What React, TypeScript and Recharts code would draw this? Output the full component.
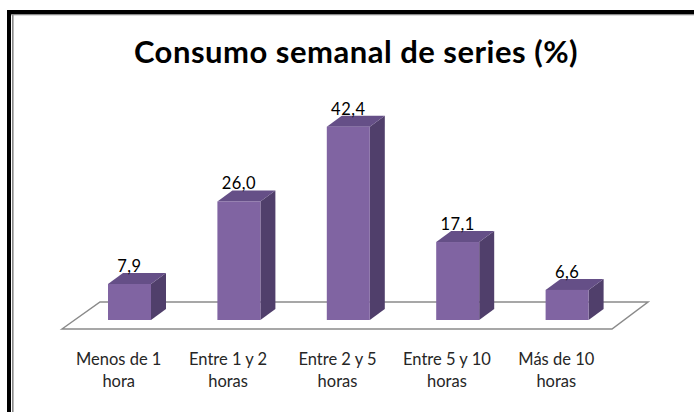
import React from 'react'
import { BarChart, Bar, XAxis, YAxis, LabelList } from 'recharts'

const categories = ['Menos de 1 hora', 'Entre 1 y 2 horas', 'Entre 2 y 5 horas', 'Entre 5 y 10 horas', 'Más de 10 horas']
const values = [7.9, 26.0, 42.4, 17.1, 6.6]
const title = 'Consumo semanal de series (%)'

const data = categories.map((c, i) => ({ name: c, value: values[i] }))

const W = 694
const H = 412
const margin = { top: 92, right: 83, bottom: 32, left: 64 }
const X_AXIS_H = 60
const plotLeft = margin.left
const plotRight = W - margin.right
const plotBottom = H - margin.bottom - X_AXIS_H

// 3d look
const SHIFT = 11
const DX = 15
const DY = 11
const FRONT = '#8064a2'
const TOP = '#654f87'
const SIDE = '#503f6b'
const FONT = 'Lato, "Liberation Sans", sans-serif'

function Bar3D(props: any) {
  const { x, y, width, height } = props
  if (height == null || width == null) return null
  const fx = x + SHIFT
  const r = fx + width
  const b = y + height
  return (
    <g>
      <polygon points={`${r},${y} ${r + DX},${y - DY} ${r + DX},${b - DY} ${r},${b}`} fill={SIDE} />
      <polygon points={`${fx},${y} ${fx + DX},${y - DY} ${r + DX},${y - DY} ${r},${y}`} fill={TOP} />
      <rect x={fx} y={y} width={width} height={height} fill={FRONT} />
    </g>
  )
}

function ValueLabel(props: any) {
  const { x, y, width, value } = props
  return (
    <text x={x + SHIFT + width / 2} y={y - 12} textAnchor="middle" fontFamily={FONT} fontSize={16.5} letterSpacing={0.5} fill="#000">
      {Number(value).toFixed(1).replace('.', ',')}
    </text>
  )
}

function CatTick(props: any) {
  const { x, y, payload } = props
  const s: string = payload.value
  const k = s.lastIndexOf(' ')
  return (
    <text x={x} textAnchor="middle" fontFamily={FONT} fontSize={16.5} fill="#262626">
      <tspan x={x} y={y + 45}>{s.slice(0, k)}</tspan>
      <tspan x={x} y={y + 67}>{s.slice(k + 1)}</tspan>
    </text>
  )
}

function Floor() {
  const back = plotBottom - 18
  const front = plotBottom + 9
  return (
    <svg width={W} height={H} style={{ position: 'absolute', left: 0, top: 0 }}>
      <rect x={0} y={0} width={W} height={H} fill="#fff" />
      <polygon
        points={`${plotLeft - 2},${front} ${plotLeft + 36},${back} ${plotRight + 37},${back} ${plotRight + 1},${front}`}
        fill="#fff"
        stroke="#8a8a8a"
        strokeWidth={1.5}
      />
      <text x={356} y={63} textAnchor="middle" fontFamily={FONT} fontWeight={700} fontSize={31} letterSpacing={0.5} fill="#000">
        {title}
      </text>
      {/* frame */}
      <rect x={7} y={10} width={W - 7} height={4} fill="#000" />
      <rect x={7} y={10} width={4} height={H - 10} fill="#000" />
      <rect x={11} y={14} width={W - 11} height={1.3} fill="#8a8a8a" />
      <rect x={12} y={14} width={1.6} height={H - 14} fill="#8a8a8a" />
    </svg>
  )
}

export default function App() {
  return (
    <div style={{ position: 'absolute', left: 0, top: 0, width: W, height: H }}>
      <Floor />
      <div style={{ position: 'absolute', left: 0, top: 0 }}>
        <BarChart width={W} height={H} data={data} margin={margin} barSize={43}>
          <XAxis
            dataKey="name"
            height={X_AXIS_H}
            axisLine={false}
            tickLine={false}
            tickSize={0}
            tickMargin={0}
            interval={0}
            tick={<CatTick />}
          />
          <YAxis hide domain={[0, 50]} />
          <Bar dataKey="value" shape={<Bar3D />} isAnimationActive={false}>
            <LabelList dataKey="value" content={<ValueLabel />} />
          </Bar>
        </BarChart>
      </div>
    </div>
  )
}
